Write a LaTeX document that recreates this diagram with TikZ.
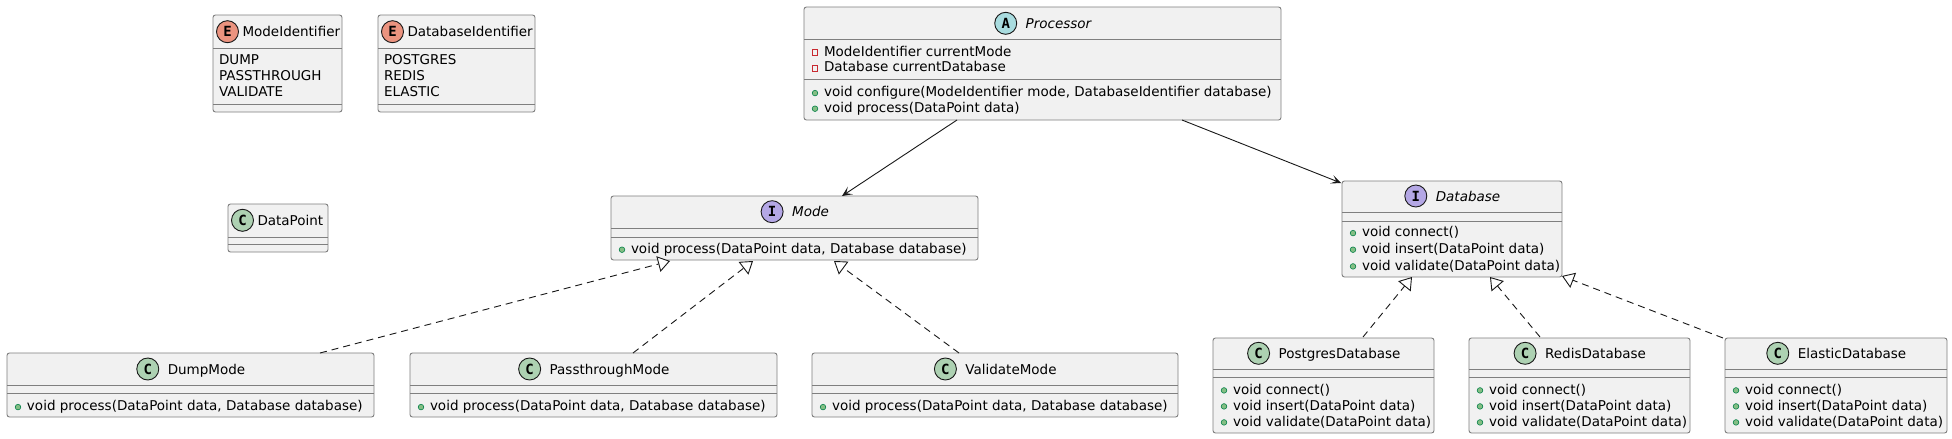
\documentclass[tikz,border=0pt]{standalone}
\usepackage{fontspec}
\setmainfont{DejaVu Sans}
\newfontfamily\iconfont{DejaVu Sans Mono}
\usetikzlibrary{arrows.meta,calc}
\definecolor{boxfill}{HTML}{F1F1F1}
\definecolor{boxline}{HTML}{7F7F7F}
\definecolor{ink}{HTML}{181818}
\definecolor{cC}{HTML}{ADD1B2}
\definecolor{cE}{HTML}{EB937F}
\definecolor{cA}{HTML}{A9DCDF}
\definecolor{cI}{HTML}{B4A7E5}
\definecolor{pubF}{HTML}{84BE84}
\definecolor{pubD}{HTML}{038048}
\definecolor{privD}{HTML}{C82930}
\tikzset{
  umlbox/.style={draw=boxline, fill=boxfill, line width=0.9pt, rounded corners=2.5pt, inner sep=0pt, outer sep=0pt, anchor=north west},
  sepline/.style={draw=boxline, line width=0.9pt},
  icon/.style={circle, draw=ink, line width=0.9pt, minimum size=22pt, inner sep=0pt, font=\iconfont\bfseries\fontsize{14}{14}\selectfont},
  mtext/.style={inner sep=0pt, outer sep=0pt, text=black, font=\fontsize{13.5}{16}\selectfont},
  itext/.style={inner sep=0pt, outer sep=0pt, text=black, font=\fontsize{13.5}{16}\selectfont\itshape},
  assoc/.style={draw=ink, line width=0.9pt, -{Stealth[length=10pt,width=9pt,inset=5pt]}},
  realize/.style={draw=ink, line width=0.9pt, dash pattern=on 7pt off 5pt, -{Triangle[length=12pt,width=16pt,fill=white]}},
}
% box: name, x1, y1, x2, y2, sep1, sep2
\newcommand\classbox[7]{%
  \node[umlbox, minimum width={(#4-#2)*1pt}, minimum height={(#5-#3)*1pt}] (#1) at (#2,#3) {};
  \draw[sepline] (#2,#6) -- (#4,#6);
  \draw[sepline] (#2,#7) -- (#4,#7);
}
% centred header: name, box centre x, baseline, letter, colour, text, style
\newcommand\chead[7]{%
  \node[#7, anchor=base] (#1) at (#2+16,#3) {#6};
  \node[icon, fill=#5] (#1i) at ([xshift=-20pt,yshift=5pt]#1.base west) {#4};
}
% left header: name, box left x, baseline, letter, colour, text
\newcommand\lhead[6]{%
  \node[mtext, anchor=base west] (#1) at (#2+29.5,#3) {#6};
  \node[icon, fill=#5] (#1i) at ([xshift=-15pt,yshift=5pt]#1.base west) {#4};
}
% members: name, box left x, baseline, text
\newcommand\pubm[4]{%
  \fill[fill=pubF, draw=pubD, line width=0.6pt] (#2+11,#3-3.6) circle (2.8pt);
  \node[mtext, anchor=base west] (#1) at (#2+20,#3) {#4};
}
\newcommand\privm[4]{%
  \draw[draw=privD, line width=0.8pt] (#2+8.2,#3-6.4) rectangle (#2+13.8,#3-0.8);
  \node[mtext, anchor=base west] (#1) at (#2+20,#3) {#4};
}
\newcommand\plainm[4]{%
  \node[mtext, anchor=base west] (#1) at (#2+6,#3) {#4};
}
\begin{document}
\begin{tikzpicture}[x=1pt, y=-1pt]
\fill[white] (0,0) rectangle (1952,439);
\useasboundingbox (0,0) rectangle (1952,439);

% ModeIdentifier
\classbox{modeid}{213}{15}{342}{112}{48}{104}
\lhead{modeidH}{213}{36.7}{E}{cE}{ModeIdentifier}
\plainm{modeidA}{213}{64}{DUMP}
\plainm{modeidB}{213}{80.3}{PASSTHROUGH}
\plainm{modeidC}{213}{96.6}{VALIDATE}

% DatabaseIdentifier
\classbox{dbid}{378}{15}{535}{112}{48}{104}
\lhead{dbidH}{378}{36.7}{E}{cE}{DatabaseIdentifier}
\plainm{dbidA}{378}{64}{POSTGRES}
\plainm{dbidB}{378}{80.3}{REDIS}
\plainm{dbidC}{378}{96.6}{ELASTIC}

% DataPoint
\classbox{dp}{228}{204}{328}{252}{237}{244}
\lhead{dpH}{228}{225.3}{C}{cC}{DataPoint}

% Processor
\classbox{proc}{804}{7}{1281}{120}{39}{79}
\chead{procH}{1042.5}{28.3}{A}{cA}{Processor}{itext}
\privm{procA}{804}{56}{ModeIdentifier currentMode}
\privm{procB}{804}{71.7}{Database currentDatabase}
\pubm{procC}{804}{96.7}{void configure(ModeIdentifier mode, DatabaseIdentifier database)}
\pubm{procD}{804}{112.3}{void process(DataPoint data)}

% Mode
\classbox{mode}{611}{196}{978}{260}{228}{237}
\chead{modeH}{794.5}{216.7}{I}{cI}{Mode}{itext}
\pubm{modeA}{611}{253.3}{void process(DataPoint data, Database database)}

% Database
\classbox{db}{1342}{181}{1562}{277}{212}{221}
\chead{dbH}{1452}{201}{I}{cI}{Database}{itext}
\pubm{dbA}{1342}{236.7}{void connect()}
\pubm{dbB}{1342}{253.3}{void insert(DataPoint data)}
\pubm{dbC}{1342}{270}{void validate(DataPoint data)}

% Mode implementations
\classbox{dump}{7}{353}{374}{417}{385}{393}
\chead{dumpH}{190.5}{374}{C}{cC}{DumpMode}{mtext}
\pubm{dumpA}{7}{410.7}{void process(DataPoint data, Database database)}

\classbox{pass}{410}{353}{777}{417}{385}{393}
\chead{passH}{593.5}{374}{C}{cC}{PassthroughMode}{mtext}
\pubm{passA}{410}{410.7}{void process(DataPoint data, Database database)}

\classbox{valid}{812}{353}{1178}{417}{385}{393}
\chead{validH}{995}{374}{C}{cC}{ValidateMode}{mtext}
\pubm{validA}{812}{410.7}{void process(DataPoint data, Database database)}

% Database implementations
\classbox{pg}{1213}{338}{1434}{433}{369}{377}
\chead{pgH}{1323.5}{358.3}{C}{cC}{PostgresDatabase}{mtext}
\pubm{pgA}{1213}{394}{void connect()}
\pubm{pgB}{1213}{410}{void insert(DataPoint data)}
\pubm{pgC}{1213}{426}{void validate(DataPoint data)}

\classbox{redis}{1469}{338}{1690}{433}{369}{377}
\chead{redisH}{1579.5}{358.3}{C}{cC}{RedisDatabase}{mtext}
\pubm{redisA}{1469}{394}{void connect()}
\pubm{redisB}{1469}{410}{void insert(DataPoint data)}
\pubm{redisC}{1469}{426}{void validate(DataPoint data)}

\classbox{elastic}{1725}{338}{1947}{433}{369}{377}
\chead{elasticH}{1836}{358.3}{C}{cC}{ElasticDatabase}{mtext}
\pubm{elasticA}{1725}{394}{void connect()}
\pubm{elasticB}{1725}{410}{void insert(DataPoint data)}
\pubm{elasticC}{1725}{426}{void validate(DataPoint data)}

% connectors
\draw[assoc] ($(proc.south west)+(153,0)$) -- ($(mode.north west)+(231,0)$);
\draw[assoc] ($(proc.south west)+(378,0)$) -- ($(db.north west)+(-1,2)$);
\draw[realize] ($(dump.north west)+(313,0)$) -- ($(mode.south west)+(59,1)$);
\draw[realize] ($(pass.north west)+(223,0)$) -- ($(mode.south west)+(142,1)$);
\draw[realize] ($(valid.north west)+(147,0)$) -- ($(mode.south west)+(223,1)$);
\draw[realize] ($(pg.north west)+(150,-1)$) -- ($(db.south west)+(70,0)$);
\draw[realize] ($(redis.north west)+(71,-1)$) -- ($(db.south west)+(148,0)$);
\draw[realize] ($(elastic.north west)+(-2,0)$) -- ($(db.south east)+(0,-1)$);
\end{tikzpicture}
\end{document}
